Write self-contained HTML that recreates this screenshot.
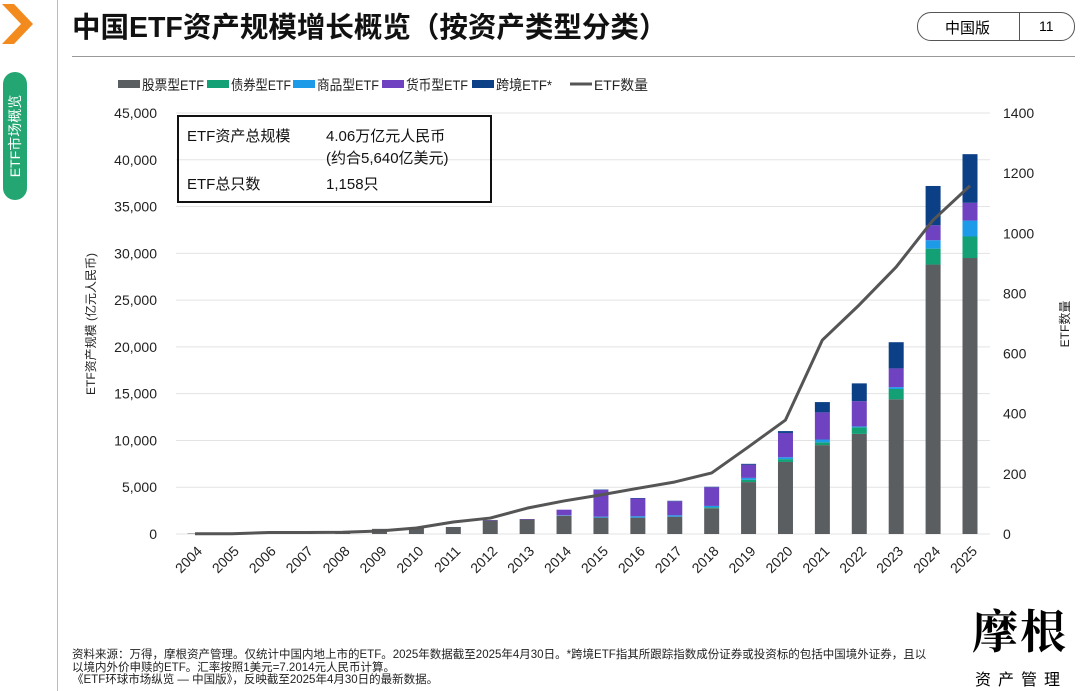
<!DOCTYPE html>
<html><head><meta charset="utf-8"><style>
body{margin:0;width:1080px;height:691px;background:#fff;overflow:hidden;font-family:"Liberation Sans","Noto Sans CJK SC",sans-serif;position:relative}
.abs{position:absolute}
</style></head><body>
<svg class="abs" style="left:0;top:0" width="40" height="50"><polygon points="2,4 14,4 33,24 14,44 2,44 21,24" fill="#f28a1e"/></svg>
<div class="abs" style="left:3px;top:72px;width:24px;height:128px;background:#23a671;border-radius:12px"></div>
<div class="abs" style="left:15px;top:136px;transform:translate(-50%,-50%) rotate(-90deg);color:#fff;font-size:14px;white-space:nowrap">ETF市场概览</div>
<div class="abs" style="left:57px;top:0;width:1px;height:691px;background:#bbb"></div>
<div class="abs" style="left:72px;top:5px;font-size:28.5px;font-weight:bold;color:#111">中国ETF资产规模增长概览（按资产类型分类）</div>
<div class="abs" style="left:72px;top:56px;width:1003px;height:1px;background:#999"></div>
<div class="abs" style="left:917px;top:12px;width:156px;height:27px;border:1px solid #555;border-radius:14px;font-size:15px">
<span class="abs" style="left:27px;top:4px">中国版</span><span class="abs" style="left:101px;top:0;width:1px;height:27px;background:#555"></span><span class="abs" style="left:121px;top:5px;font-size:14px">11</span></div>
<svg class="abs" style="left:0;top:0" width="1080" height="691" id="chart"></svg>
<div class="abs" style="left:177px;top:115px;width:311px;height:84px;border:2px solid #111;font-size:15px;color:#111">
<span class="abs" style="left:8px;top:8px">ETF资产总规模</span><span class="abs" style="left:147px;top:8px">4.06万亿元人民币</span>
<span class="abs" style="left:147px;top:30px">(约合5,640亿美元)</span>
<span class="abs" style="left:8px;top:56px">ETF总只数</span><span class="abs" style="left:147px;top:56px">1,158只</span></div>
<div class="abs" style="left:72px;top:649px;font-size:11.5px;line-height:12.5px;color:#222;width:960px;white-space:nowrap">资料来源：万得，摩根资产管理。仅统计中国内地上市的ETF。2025年数据截至2025年4月30日。*跨境ETF指其所跟踪指数成份证券或投资标的包括中国境外证券，且以<br>以境内外价申赎的ETF。汇率按照1美元=7.2014元人民币计算。<br>《ETF环球市场纵览 — 中国版》，反映截至2025年4月30日的最新数据。</div>
<div class="abs" style="left:972px;top:596px;font-family:'Noto Serif CJK SC',serif;font-size:46px;font-weight:bold;letter-spacing:2px">摩根</div>
<div class="abs" style="left:975px;top:666px;font-size:16px;letter-spacing:7px">资产管理</div>
<script>
const years=['2004','2005','2006','2007','2008','2009','2010','2011','2012','2013','2014','2015','2016','2017','2018','2019','2020','2021','2022','2023','2024','2025'];
const stock=[50,50,60,60,60,550,700,750,1450,1550,1950,1750,1750,1850,2750,5550,7700,9500,10700,14400,28800,29500];
const bond=[0,0,0,0,0,0,0,0,0,0,0,0,0,0,100,250,300,300,700,1100,1700,2300];
const commodity=[0,0,0,0,0,0,0,0,0,0,50,100,150,150,150,200,200,300,100,200,900,1700];
const money=[0,0,0,0,0,0,0,0,50,50,600,2850,1900,1500,2000,1400,2600,2900,2700,2000,1600,1900];
const cross=[0,0,0,0,0,0,0,0,0,0,0,50,50,50,50,100,200,1100,1900,2800,4200,5200];
const counts=[1,1,5,5,6,10,20,40,53,86,110,130,152,173,203,290,379,645,762,888,1044,1158];
const leftTicks=[0,5000,10000,15000,20000,25000,30000,35000,40000,45000];
const rightTicks=[0,200,400,600,800,1000,1200,1400];
const colors=['#5b5e61','#13a075','#1e9be8','#6f42c1','#0b3f86'];
const legendNames=['股票型ETF','债券型ETF','商品型ETF','货币型ETF','跨境ETF*','ETF数量'];
const svg=document.getElementById('chart');const NS='http://www.w3.org/2000/svg';
const y0=534,y1=113,xL=176,xR=990;
const yL=v=>y0-(v/45000)*(y0-y1);
const yR=v=>y0-(v/1400)*(y0-y1);
const xC=i=>195+i*(970-195)/(years.length-1);
function mk(t,a,txt){const e=document.createElementNS(NS,t);for(const k in a)e.setAttribute(k,a[k]);if(txt!==undefined)e.textContent=txt;svg.appendChild(e);return e;}
leftTicks.forEach(v=>{
let g=mk('line',{x1:xL,x2:xR,y1:yL(v),y2:yL(v),stroke:'#e3e3e3','stroke-width':1});


let t=mk('text',{x:157,y:yL(v)+5,'text-anchor':'end','font-size':14,fill:'#222'},v.toLocaleString('en-US'));


});
rightTicks.forEach(v=>{
let t=mk('text',{x:1003,y:yR(v)+5,'font-size':14,fill:'#222'},String(v));


});
const series=[stock,bond,commodity,money,cross];
years.forEach((yr,i)=>{
let acc=0;
series.forEach((s,k)=>{
const v=s[i];if(v<=0)return;
const r=mk('rect',{x:xC(i)-7.5,y:yL(acc+v),width:15,height:yL(acc)-yL(acc+v),fill:colors[k]});


acc+=v;});
const t=mk('text',{x:0,y:0,'font-size':14,fill:'#222','text-anchor':'end',transform:`translate(${xC(i)+8},${552}) rotate(-45)`},yr);


});
const pl=mk('polyline',{points:counts.map((c,i)=>xC(i)+','+yR(c)).join(' '),fill:'none',stroke:'#555','stroke-width':3,'stroke-linejoin':'round'});


const yt=mk('text',{x:0,y:0,'font-size':12,fill:'#222','text-anchor':'middle',transform:'translate(95,324) rotate(-90)'},'ETF资产规模 (亿元人民币)');


const yt2=mk('text',{x:0,y:0,'font-size':12,fill:'#222','text-anchor':'middle',transform:'translate(1069,324) rotate(-90)'},'ETF数量');


const lx=[118,207,293,382,472,570];
const lw=[62,60,62,62,56,54];
legendNames.forEach((n,k)=>{
if(k<5){const r=mk('rect',{x:lx[k],y:80,width:22,height:8,fill:colors[k]});}
else{const l=mk('line',{x1:lx[k],x2:lx[k]+22,y1:84,y2:84,stroke:'#555','stroke-width':3});}
const t=mk('text',{x:lx[k]+24,y:90,'font-size':14,fill:'#222',textLength:lw[k],lengthAdjust:'spacingAndGlyphs'},n);


});
</script>
</body></html>
